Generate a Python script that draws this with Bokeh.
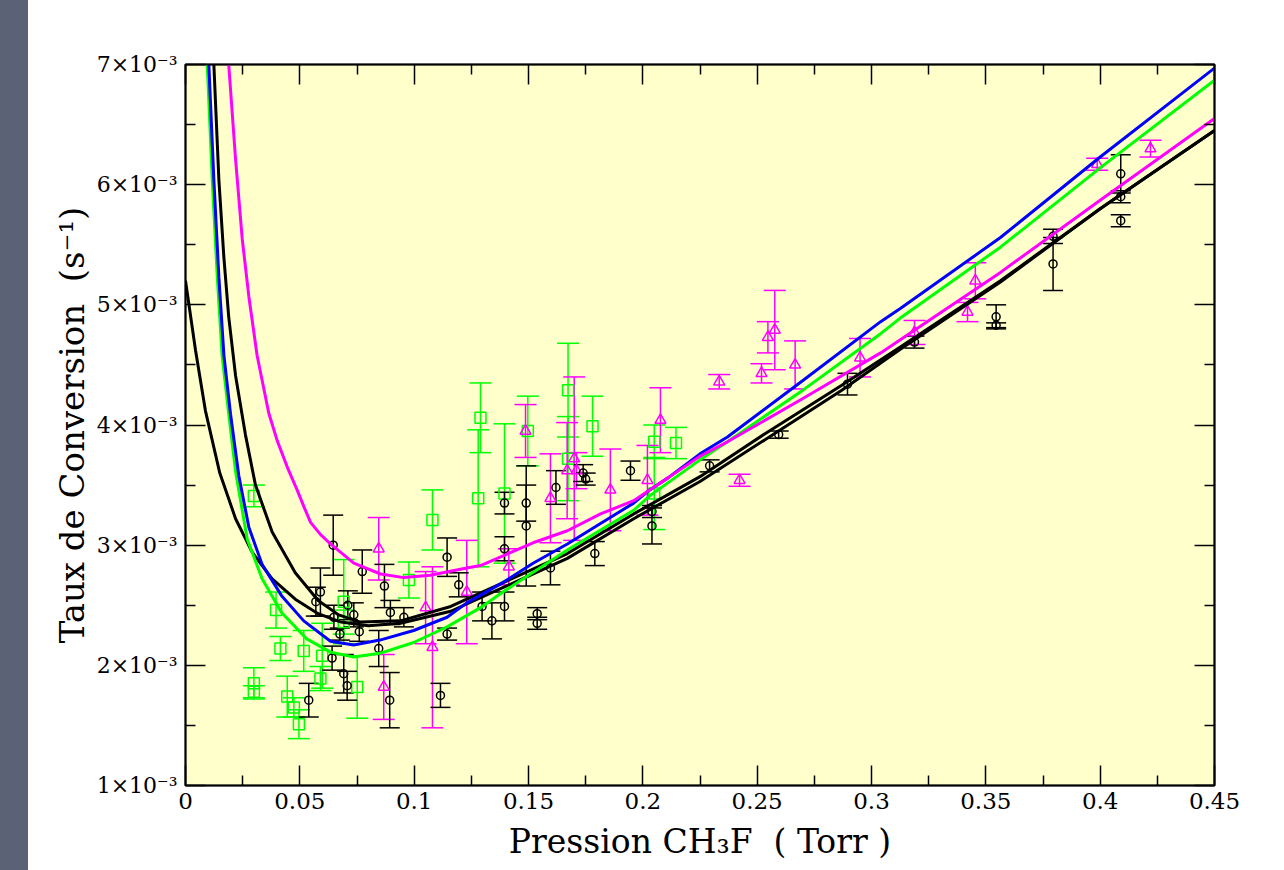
from bokeh.plotting import figure
from bokeh.layouts import row
from bokeh.models import ColumnDataSource, Whisker, TeeHead, LinearAxis, FixedTicker, Div
from bokeh.embed import file_html
from bokeh.resources import INLINE

# ---------------- data (y in units of 10^-3 s^-1) ----------------
x_ticks = [0.0, 0.05, 0.1, 0.15, 0.2, 0.25, 0.3, 0.35, 0.4, 0.45]
x_tick_labels = ["0", "0.05", "0.1", "0.15", "0.2", "0.25", "0.3", "0.35", "0.4", "0.45"]
x_minor = [0.025, 0.075, 0.125, 0.175, 0.225, 0.275, 0.325, 0.375, 0.425]
y_ticks = [1, 2, 3, 4, 5, 6, 7]
y_tick_labels = ["1×10⁻³", "2×10⁻³", "3×10⁻³", "4×10⁻³", "5×10⁻³", "6×10⁻³", "7×10⁻³"]
y_minor = [1.5, 2.5, 3.5, 4.5, 5.5, 6.5]

# black circles
bk_x = [0.0539, 0.0570, 0.0590, 0.0641, 0.0646, 0.0649, 0.0675, 0.0692, 0.0707, 0.0710,
        0.0736, 0.0760, 0.0773, 0.0845, 0.0870, 0.0893, 0.0896, 0.0955, 0.1115, 0.1144,
        0.1144, 0.1195, 0.1297, 0.1340, 0.1395, 0.1395, 0.1395, 0.1490, 0.1490, 0.1538,
        0.1538, 0.1596, 0.1620, 0.1739, 0.1750, 0.1790, 0.1946, 0.2040, 0.2040, 0.2292,
        0.2594, 0.2895, 0.3188, 0.3545, 0.3545, 0.3794, 0.3794, 0.4090, 0.4090, 0.4090]
bk_y = [1.71, 2.53, 2.61, 2.06, 3.00, 2.40, 2.26, 1.93, 1.83, 2.50,
        2.42, 2.28, 2.78, 2.14, 2.66, 1.71, 2.44, 2.40, 1.75, 2.90,
        2.26, 2.67, 2.49, 2.37, 3.35, 2.97, 2.49, 3.35, 3.16, 2.43,
        2.35, 2.81, 3.48, 3.60, 3.55, 2.93, 3.62, 3.16, 3.28, 3.66,
        3.92, 4.34, 4.69, 4.90, 4.83, 5.57, 5.34, 6.09, 5.90, 5.70]
bk_err = [0.14, 0.12, 0.20, 0.10, 0.25, 0.10, 0.05, 0.16, 0.12, 0.12,
          0.10, 0.08, 0.18, 0.15, 0.18, 0.23, 0.10, 0.08, 0.10, 0.16,
          0.05, 0.10, 0.12, 0.15, 0.09, 0.10, 0.12, 0.15, 0.50, 0.05,
          0.05, 0.14, 0.14, 0.07, 0.05, 0.10, 0.08, 0.15, 0.05, 0.05,
          0.03, 0.09, 0.05, 0.10, 0.02, 0.06, 0.22, 0.16, 0.05, 0.05]

# green squares
gr_x = [0.0299, 0.0299, 0.0299, 0.0396, 0.0415, 0.0445, 0.0474, 0.0496, 0.0517, 0.0590,
        0.0598, 0.0692, 0.0692, 0.0751, 0.0977, 0.1080, 0.1280, 0.1290, 0.1395, 0.1497,
        0.1673, 0.1673, 0.1780, 0.2050, 0.2050, 0.2145]
gr_y = [3.41, 1.85, 1.78, 2.46, 2.14, 1.74, 1.65, 1.51, 2.12, 1.89,
        2.08, 2.53, 2.36, 1.82, 2.71, 3.21, 3.39, 4.06, 3.43, 3.95,
        4.29, 3.72, 3.99, 3.86, 3.43, 3.85]
gr_err = [0.09, 0.13, 0.05, 0.15, 0.10, 0.17, 0.08, 0.12, 0.17, 0.10,
          0.27, 0.35, 0.10, 0.26, 0.15, 0.25, 0.57, 0.29, 0.58, 0.29,
          0.39, 0.35, 0.25, 0.14, 0.30, 0.13]

# magenta triangles
mg_x = [0.0845, 0.0867, 0.1050, 0.1080, 0.1230, 0.1414, 0.1487, 0.1596, 0.1669, 0.1700,
        0.1710, 0.1858, 0.2020, 0.2077, 0.2334, 0.2423, 0.2519, 0.2547, 0.2577, 0.2666,
        0.2950, 0.3188, 0.3420, 0.3454, 0.3987, 0.4220]
mg_y = [2.97, 1.82, 2.48, 2.15, 2.61, 2.82, 3.95, 3.39, 3.62, 3.72,
        3.62, 3.46, 3.54, 4.04, 4.36, 3.54, 4.43, 4.73, 4.79, 4.50,
        4.56, 4.77, 4.94, 5.20, 6.17, 6.30]
mg_err = [0.26, 0.27, 0.30, 0.67, 0.43, 0.15, 0.22, 0.37, 0.40, 0.68,
          0.15, 0.34, 0.29, 0.27, 0.06, 0.05, 0.08, 0.13, 0.33, 0.20,
          0.16, 0.10, 0.08, 0.15, 0.05, 0.07]

# fitted curves
blackA_x = [0.0, 0.0044, 0.0087, 0.0150, 0.0219, 0.0292, 0.0379, 0.0480, 0.0580, 0.0680,
            0.0800, 0.0940, 0.1160, 0.1380, 0.1670, 0.1960, 0.2250, 0.2536, 0.2870, 0.3126,
            0.3564, 0.4000, 0.4500]
blackA_y = [5.20, 4.62, 4.12, 3.60, 3.22, 2.94, 2.72, 2.55, 2.43, 2.36,
            2.33, 2.35, 2.45, 2.64, 2.89, 3.22, 3.53, 3.88, 4.29, 4.63,
            5.19, 5.80, 6.45]
blackB_x = [0.0124, 0.0146, 0.0168, 0.0189, 0.0219, 0.0262, 0.0306, 0.0379, 0.0480, 0.0580,
            0.0670, 0.0765, 0.0940, 0.1160, 0.1380, 0.1670, 0.1960, 0.2250, 0.2536, 0.2870,
            0.3126, 0.3564, 0.4000, 0.4500]
blackB_y = [7.00, 6.04, 5.39, 4.90, 4.41, 3.92, 3.50, 3.11, 2.77, 2.54,
            2.42, 2.36, 2.37, 2.49, 2.68, 2.93, 3.26, 3.57, 3.93, 4.33,
            4.65, 5.20, 5.80, 6.45]
blue_x = [0.0102, 0.0124, 0.0146, 0.0168, 0.0197, 0.0233, 0.0277, 0.0335, 0.0420, 0.0517,
          0.0634, 0.0736, 0.0850, 0.0998, 0.1144, 0.1230, 0.1380, 0.1520, 0.1670, 0.1815,
          0.1960, 0.2030, 0.2110, 0.2250, 0.2370, 0.2700, 0.3040, 0.3126, 0.3564, 0.4000,
          0.4500]
blue_y = [7.00, 6.04, 5.23, 4.58, 4.09, 3.58, 3.15, 2.84, 2.58, 2.37,
          2.20, 2.17, 2.21, 2.29, 2.40, 2.52, 2.68, 2.85, 3.01, 3.18,
          3.35, 3.46, 3.56, 3.76, 3.90, 4.37, 4.86, 4.97, 5.56, 6.23,
          6.97]
green_x = [0.0095, 0.0117, 0.0139, 0.0160, 0.0189, 0.0220, 0.0270, 0.0335, 0.0420, 0.0530,
           0.0634, 0.0736, 0.0850, 0.0998, 0.1144, 0.1290, 0.1380, 0.1670, 0.1960, 0.2030,
           0.2250, 0.2370, 0.2700, 0.3040, 0.3126, 0.3564, 0.4000, 0.4500]
green_y = [7.00, 6.04, 5.23, 4.58, 4.09, 3.60, 3.05, 2.72, 2.44, 2.22,
           2.11, 2.07, 2.10, 2.19, 2.32, 2.48, 2.60, 2.96, 3.29, 3.41,
           3.71, 3.86, 4.29, 4.76, 4.89, 5.48, 6.14, 6.87]
mag_x = [0.0189, 0.0219, 0.0248, 0.0277, 0.0313, 0.0364, 0.0401, 0.0445, 0.0488, 0.0520,
         0.0547, 0.0590, 0.0634, 0.0736, 0.0853, 0.0955, 0.1070, 0.1230, 0.1290, 0.1520,
         0.1670, 0.1815, 0.1960, 0.2030, 0.2110, 0.2250, 0.2370, 0.2700, 0.3040, 0.3126,
         0.3564, 0.4000, 0.4500]
mag_y = [7.00, 6.21, 5.55, 5.07, 4.58, 4.10, 3.87, 3.65, 3.46, 3.31,
         3.19, 3.09, 3.01, 2.85, 2.76, 2.73, 2.75, 2.81, 2.83, 3.02,
         3.12, 3.26, 3.37, 3.46, 3.56, 3.74, 3.86, 4.22, 4.60, 4.71,
         5.27, 5.87, 6.55]

FONT = "DejaVu Serif"

# ---------------- main figure ----------------
p = figure(width=1256, height=870, x_range=(0, 0.45), y_range=(1, 7),
           output_backend="svg", toolbar_location=None,
           min_border_left=157, min_border_right=70, min_border_top=64, min_border_bottom=85,
           background_fill_color="#ffffcc", border_fill_color="white",
           outline_line_color="black", outline_line_width=2)
p.grid.visible = False


def style_axis(ax, show_labels):
    ax.axis_line_color = "black"
    ax.axis_line_width = 1.5
    ax.major_tick_in = 20
    ax.major_tick_out = 0
    ax.minor_tick_in = 10
    ax.minor_tick_out = 0
    ax.major_tick_line_color = "black"
    ax.minor_tick_line_color = "black"
    ax.major_tick_line_width = 1.5
    ax.minor_tick_line_width = 1.5
    ax.major_label_text_font = FONT
    ax.major_label_text_color = "black"
    ax.axis_label_text_font = FONT
    ax.axis_label_text_font_style = "normal"
    ax.axis_label_text_color = "black"
    if not show_labels:
        ax.major_label_text_color = None
        ax.major_label_standoff = 0


xt = FixedTicker(ticks=x_ticks, minor_ticks=x_minor)
yt = FixedTicker(ticks=y_ticks, minor_ticks=y_minor)

xa = p.xaxis[0]
xa.ticker = xt
xa.major_label_overrides = dict(zip(x_ticks, x_tick_labels))
style_axis(xa, True)
xa.major_label_text_font_size = "23px"
xa.major_label_standoff = 7
xa.axis_label = "Pression CH₃F\u00a0\u00a0( Torr )"
xa.axis_label_text_font_size = "33px"
xa.axis_label_standoff = 10

ya = p.yaxis[0]
ya.ticker = yt
ya.major_label_overrides = dict(zip(y_ticks, y_tick_labels))
style_axis(ya, True)
ya.major_label_text_font_size = "22px"
ya.major_label_standoff = 8
ya.axis_label = "Taux de Conversion\u00a0\u00a0(s⁻¹)"
ya.axis_label_text_font_size = "34px"
ya.axis_label_standoff = 2

top = LinearAxis(ticker=FixedTicker(ticks=x_ticks, minor_ticks=x_minor),
                 major_label_overrides={t: "" for t in x_ticks})
style_axis(top, False)
p.add_layout(top, "above")
right = LinearAxis(ticker=FixedTicker(ticks=y_ticks, minor_ticks=y_minor),
                   major_label_overrides={t: "" for t in y_ticks})
style_axis(right, False)
p.add_layout(right, "right")


def add_series(xs, ys, errs, color, marker, size, cap):
    src = ColumnDataSource(dict(x=xs, y=ys,
                                upper=[a + b for a, b in zip(ys, errs)],
                                lower=[a - b for a, b in zip(ys, errs)]))
    w = Whisker(source=src, base="x", upper="upper", lower="lower", dimension="height",
                line_color=color, line_width=1.5,
                upper_head=TeeHead(size=cap, line_color=color, line_width=1.5),
                lower_head=TeeHead(size=cap, line_color=color, line_width=1.5))
    p.add_layout(w)
    p.scatter("x", "y", source=src, marker=marker, size=size,
              fill_color=None, line_color=color, line_width=1.5)


add_series(gr_x, gr_y, gr_err, "#00ff00", "square", 11, 22)
add_series(mg_x, mg_y, mg_err, "#ff00ff", "triangle", 11, 22)
add_series(bk_x, bk_y, bk_err, "black", "circle", 8, 20)

p.line(blackA_x, blackA_y, line_color="black", line_width=3)
p.line(blackB_x, blackB_y, line_color="black", line_width=3)
p.line(green_x, green_y, line_color="#00ff00", line_width=3)
p.line(blue_x, blue_y, line_color="#0000ff", line_width=3)
p.line(mag_x, mag_y, line_color="#ff00ff", line_width=3)

# ---------------- left decorative strip ----------------
strip = Div(text="", width=28, height=870,
            styles={"background-color": "#5b6275", "margin": "0", "padding": "0"})

layout = row(strip, p, spacing=0)

open("out.html", "w").write(file_html(layout, INLINE))
